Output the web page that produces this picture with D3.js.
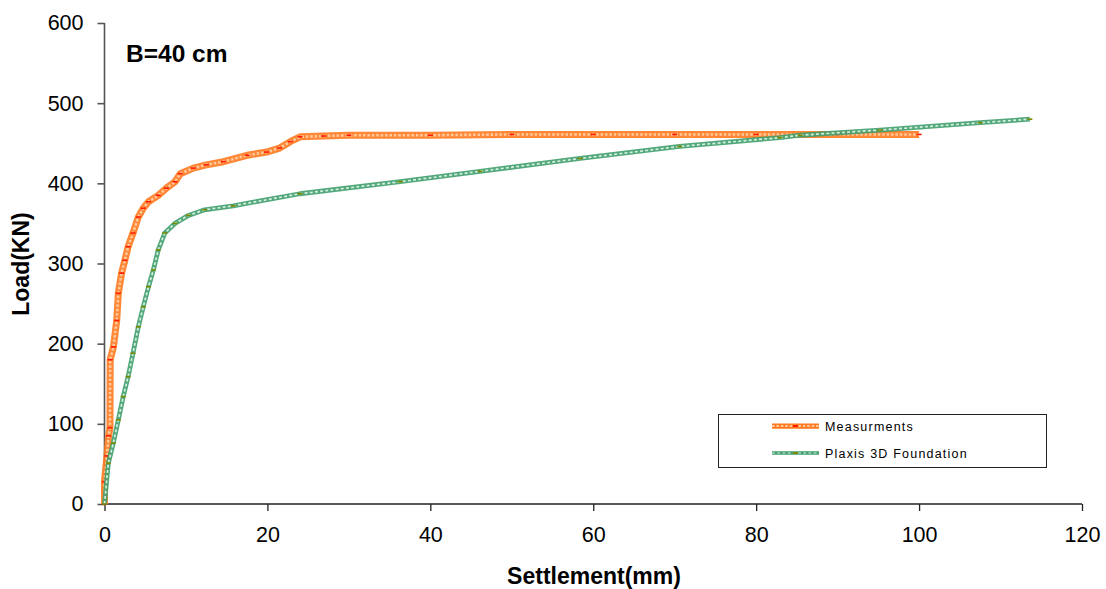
<!DOCTYPE html>
<html>
<head>
<meta charset="utf-8">
<script src="https://cdn.jsdelivr.net/npm/d3@7"></script>
<style>
  html, body { margin: 0; padding: 0; background: #fff; }
  svg { display: block; font-family: "Liberation Sans", Arial, sans-serif; }
  .tick-lbl { font-size: 21.5px; fill: #000; }
  .ax-title { font-size: 23px; font-weight: bold; fill: #000; }
  .leg-lbl { font-size: 12.5px; letter-spacing: 1.2px; fill: #000; }
</style>
</head>
<body>
<svg id="chart" width="1106" height="589"></svg>
<script>
/* ── Data ──────────────────────────────────────────────────────────────── */
const xTicks = [0, 20, 40, 60, 80, 100, 120];
const yTicks = [0, 100, 200, 300, 400, 500, 600];

const measSettlement = [0, 0, 0.3, 0.5, 0.67, 0.7, 1.1, 1.5, 1.7, 2.1, 2.5, 2.9, 3.5, 4.15, 4.76, 5.4, 6.6, 7.6, 8.65, 9.3, 10.9, 12.5, 14.6, 17.5, 19.9, 21.5, 22.8, 24.0, 26.9, 30, 40, 50, 60, 70, 80, 90, 100];
const measLoad       = [0, 28, 60, 85, 95, 180, 196, 229, 263, 288, 304, 321, 338, 358, 369, 377, 385, 394, 402, 412, 419, 423, 427, 435, 439, 444, 452, 458, 459, 460, 460, 461, 461, 461, 461, 461, 461];

const plaxSettlement = [0, 0.47, 1.08, 1.7, 2.3, 2.9, 3.5, 4.15, 4.76, 5.4, 6.0, 6.6, 7.4, 8.65, 10.3, 12.3, 15.8, 24, 36.3, 46.1, 58.4, 70.6, 82.9, 85.4, 95.2, 107.5, 113.6];
const plaxLoad       = [0, 51, 76, 105, 134, 159, 188, 221, 246, 271, 292, 317, 338, 350, 360, 367, 372, 387, 402, 415, 431, 446, 457, 460, 466.5, 475.6, 480];

const SERIES = [
  { name: 'Measurments',          xs: measSettlement, ys: measLoad,
    band: '#ff7a1f', inner: '#ffc99c', w: 7, iw: 2.6, dash: '2.6,1.8', tick: '#ff1a00' },
  { name: 'Plaxis 3D Foundation', xs: plaxSettlement, ys: plaxLoad,
    band: '#3f9e6c', inner: '#d4efe0', w: 4.8, iw: 1.7, dash: '3,2.2',   tick: '#7a8a00' },
];

/* ── Layout ─────────────────────────────────────────────────────────────── */
const svg = d3.select('#chart');
const X0 = 104.5, X1 = 1082, Y0 = 504, Y1 = 23;

const x = d3.scaleLinear().domain([0, 120]).range([X0, X1]);
const y = d3.scaleLinear().domain([0, 600]).range([Y0, Y1]);

/* ── Axes ───────────────────────────────────────────────────────────────── */
const gx = svg.append('g').attr('transform', `translate(0,${Y0})`)
  .call(d3.axisBottom(x).tickValues(xTicks).tickSize(7).tickPadding(16).tickFormat(d3.format('d')));
gx.select('.domain').attr('stroke', '#222').attr('stroke-width', 1.3).attr('d', `M${X0},0H${X1}`);
gx.selectAll('.tick line').attr('stroke', '#222').attr('stroke-width', 1.3);
gx.selectAll('.tick text').attr('class', 'tick-lbl').attr('font-size', null).attr('font-family', null);

const gy = svg.append('g').attr('transform', `translate(${X0},0)`)
  .call(d3.axisLeft(y).tickValues(yTicks).tickSize(7).tickPadding(14).tickFormat(d3.format('d')));
gy.select('.domain').attr('stroke', '#555').attr('stroke-width', 1.6).attr('d', `M0,${Y0}V${Y1}`);
gy.selectAll('.tick line').attr('stroke', '#555').attr('stroke-width', 1.6);
gy.selectAll('.tick text').attr('class', 'tick-lbl').attr('font-size', null).attr('font-family', null);
svg.selectAll('.tick-lbl').style('fill', '#000');

/* ── Series ─────────────────────────────────────────────────────────────── */
const line = d3.line().x(d => x(d[0])).y(d => y(d[1]));

SERIES.forEach(s => {
  const pts = s.xs.map((v, i) => [v, s.ys[i]]);
  const g = svg.append('g');
  g.append('path').attr('d', line(pts)).attr('fill', 'none')
    .attr('stroke', s.band).attr('stroke-width', s.w).attr('stroke-linejoin', 'round').attr('opacity', 0.9);
  g.append('path').attr('d', line(pts)).attr('fill', 'none')
    .attr('stroke', s.inner).attr('stroke-width', s.iw).attr('stroke-dasharray', s.dash);
  g.selectAll('line.mk').data(pts).join('line').attr('class', 'mk')
    .attr('x1', d => x(d[0]) - 2.5).attr('x2', d => x(d[0]) + 2.5)
    .attr('y1', d => y(d[1])).attr('y2', d => y(d[1]))
    .attr('stroke', s.tick).attr('stroke-width', 1.6);
});

/* ── Titles ─────────────────────────────────────────────────────────────── */
svg.append('text').attr('x', 126).attr('y', 62).attr('font-size', 24.5).attr('font-weight', 'bold').text('B=40 cm');
svg.append('text').attr('class', 'ax-title').attr('x', 594).attr('y', 584).attr('text-anchor', 'middle').text('Settlement(mm)');
svg.append('text').attr('class', 'ax-title').attr('text-anchor', 'middle')
  .attr('transform', 'translate(29,264) rotate(-90)').text('Load(KN)');

/* ── Legend ─────────────────────────────────────────────────────────────── */
const leg = svg.append('g');
leg.append('rect').attr('x', 718.5).attr('y', 414.5).attr('width', 328).attr('height', 53)
  .attr('fill', '#fff').attr('stroke', '#222').attr('stroke-width', 1);
SERIES.forEach((s, i) => {
  const ly = 426 + i * 27;
  leg.append('line').attr('x1', 772).attr('x2', 819).attr('y1', ly).attr('y2', ly)
    .attr('stroke', s.band).attr('stroke-width', s.w * 0.75);
  leg.append('line').attr('x1', 772).attr('x2', 819).attr('y1', ly).attr('y2', ly)
    .attr('stroke', s.inner).attr('stroke-width', s.iw * 0.7).attr('stroke-dasharray', s.dash);
  leg.append('line').attr('x1', 793).attr('x2', 798).attr('y1', ly).attr('y2', ly)
    .attr('stroke', s.tick).attr('stroke-width', 2);
  leg.append('text').attr('class', 'leg-lbl').attr('x', 825).attr('y', ly + 5).text(s.name);
});
</script>
</body>
</html>
